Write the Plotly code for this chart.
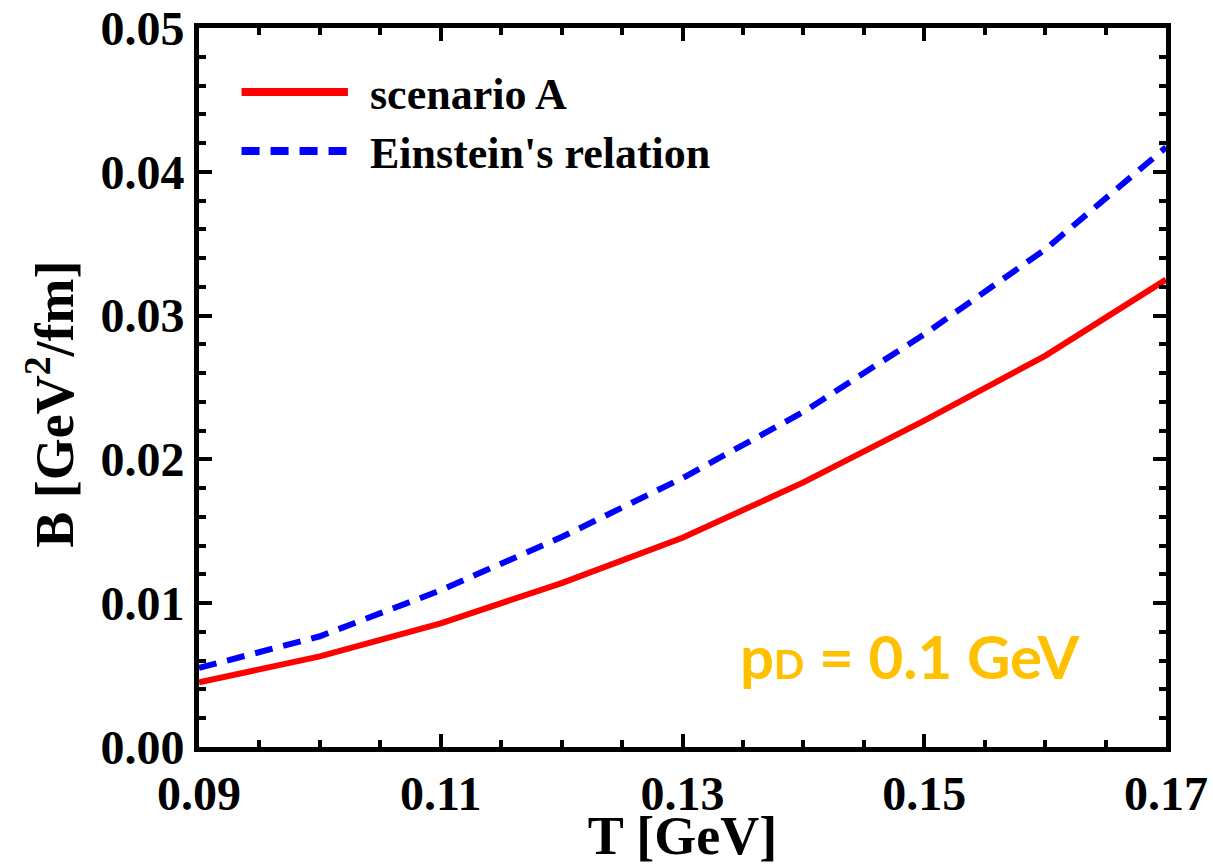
import plotly.graph_objects as go

T = [0.09, 0.10, 0.11, 0.12, 0.13, 0.14, 0.15, 0.16, 0.17]
B_scenarioA = [0.0045, 0.0063, 0.0086, 0.0114, 0.01455, 0.0184, 0.0227, 0.0272, 0.0325]
B_einstein = [0.0055, 0.0077, 0.0109, 0.0146, 0.0187, 0.0233, 0.0287, 0.0346, 0.0417]

x_ticks = [0.09, 0.11, 0.13, 0.15, 0.17]
y_ticks = [0.00, 0.01, 0.02, 0.03, 0.04, 0.05]

FONT = "Liberation Serif"
DASH = "18px,11px"

fig = go.Figure()
fig.add_trace(go.Scatter(x=T, y=B_scenarioA, mode="lines", name="scenario A",
                         line=dict(color="#FF0000", width=6), showlegend=False))
fig.add_trace(go.Scatter(x=T, y=B_einstein, mode="lines", name="Einstein's relation",
                         line=dict(color="#0000FF", width=6, dash=DASH), showlegend=False))

# Legend (drawn manually for long line samples)
legend_items = [("scenario A", "#FF0000", "solid", 0.911), ("Einstein's relation", "#0000FF", DASH, 0.829)]
for label, col, dsh, yy in legend_items:
    fig.add_shape(type="line", xref="x domain", yref="y domain", x0=0.044, x1=0.154, y0=yy, y1=yy,
                  line=dict(color=col, width=8, dash=dsh))
    fig.add_annotation(xref="x domain", yref="y domain", x=0.175, y=yy - 0.004, text="<b>%s</b>" % label,
                       showarrow=False, xanchor="left", yanchor="middle",
                       font=dict(family=FONT, size=44, color="black"))

fig.add_annotation(xref="x domain", yref="y domain", x=0.557, y=0.126,
                   text="<b>p<span style='font-size:40px'>D</span> = 0.1 GeV</b>",
                   showarrow=False, xanchor="left", yanchor="middle",
                   font=dict(family="Lato", size=60, color="#FFC000"))

# Y-axis title as rotated annotation (positioned as in reference)
fig.add_annotation(xref="paper", yref="paper", x=-0.153, y=0.476, textangle=-90,
                   text="<b>B [GeV<sup>2</sup>/fm]</b>", showarrow=False,
                   xanchor="center", yanchor="middle",
                   font=dict(family=FONT, size=54, color="black"))

axis_common = dict(showline=True, linewidth=5, linecolor="black", mirror="ticks",
                   ticks="inside", ticklen=13, tickwidth=4, tickcolor="black",
                   showgrid=False, zeroline=False, automargin=False,
                   tickfont=dict(family=FONT, size=48, color="black"))

fig.update_xaxes(range=[0.09, 0.17], tickvals=x_ticks,
                 ticktext=["<b>%.2f</b>" % v for v in x_ticks],
                 minor=dict(dtick=0.005, tick0=0.09, ticks="inside", ticklen=7, tickwidth=4, tickcolor="black"),
                 title=dict(text="<b>T [GeV]</b>", font=dict(family=FONT, size=54, color="black"), standoff=5),
                 **axis_common)
fig.update_yaxes(range=[0.0, 0.05], tickvals=y_ticks,
                 ticktext=["<b>%.2f</b>" % v for v in y_ticks],
                 minor=dict(dtick=0.002, tick0=0.0, ticks="inside", ticklen=7, tickwidth=4, tickcolor="black"),
                 **axis_common)

fig.update_layout(width=1213, height=866, plot_bgcolor="white", paper_bgcolor="white",
                  margin=dict(l=199, r=47, t=28, b=119))

fig.write_html("out.html")
